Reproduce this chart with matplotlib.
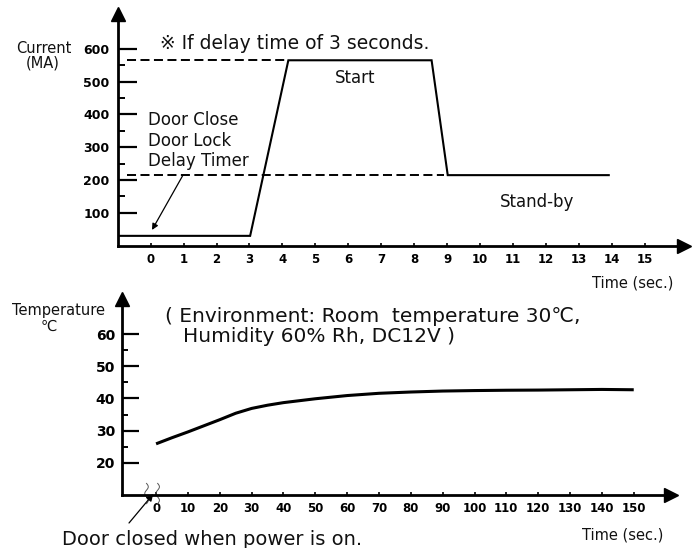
import matplotlib
matplotlib.use("Agg")
import matplotlib.pyplot as plt
import numpy as np

plt.rcParams['font.family'] = ['DejaVu Sans', 'Noto Sans CJK SC']
plt.rcParams['lines.scale_dashes'] = False

# ---------------- data ----------------
# Top chart: current (mA) vs time (s)
cur_time = [-1.0, 3.02, 4.18, 8.53, 9.02, 13.91]
cur_val = [30, 30, 565, 565, 215, 215]
start_level = 565
standby_level = 215
dash_start = -0.72
dash_hi_end = 4.18
dash_lo_end = 8.9
cur_xticks = list(range(0, 16))
cur_yticks = [100, 200, 300, 400, 500, 600]
cur_yminor = [150, 250, 350, 450, 550]

# Bottom chart: temperature (C) vs time (s)
temp_time = [0, 5, 10, 15, 20, 25, 30, 35, 40, 45, 50, 55, 60, 70, 80, 90,
             100, 110, 120, 130, 140, 150]
temp_val = [25.9, 27.8, 29.6, 31.5, 33.4, 35.4, 36.9, 37.9, 38.7, 39.3, 39.9, 40.4,
            40.9, 41.6, 42.0, 42.3, 42.45, 42.55, 42.6, 42.7, 42.8, 42.7]
temp_xticks = list(range(0, 151, 10))
temp_yticks = [20, 30, 40, 50, 60]
temp_yminor = [25, 35, 45, 55]
break_x = [-3.0, 0.5]

W, H = 699, 548
fig = plt.figure(figsize=(W / 100, H / 100), dpi=100)


def px_axes(left, top, right, bottom):
    return fig.add_axes([left / W, 1 - bottom / H, (right - left) / W, (bottom - top) / H])


def ptext(x, y, s, **kw):
    kw.setdefault('va', 'baseline')
    kw.setdefault('ha', 'left')
    kw.setdefault('color', '#111111')
    fig.text(x / W, 1 - y / H, s, **kw)


def style_axes(ax, major_len, minor_len, ylabsize, xlabsize, ypad, xpad, right_ms):
    for s in ['top', 'right']:
        ax.spines[s].set_visible(False)
    for s in ['left', 'bottom']:
        ax.spines[s].set_linewidth(2.0)
    ax.tick_params(axis='y', which='major', direction='in', length=major_len, width=1.6,
                   pad=ypad, labelsize=ylabsize)
    ax.tick_params(axis='y', which='minor', direction='in', length=minor_len, width=1.4)
    ax.tick_params(axis='x', which='major', direction='in', length=2.5, width=1.2,
                   pad=xpad, labelsize=xlabsize)
    for lab in ax.get_xticklabels() + ax.get_yticklabels():
        lab.set_fontweight('bold')
    ax.plot([0], [1], marker='^', ms=10, color='black', transform=ax.transAxes, clip_on=False)
    ax.plot([1], [0], marker='>', ms=right_ms, color='black', transform=ax.transAxes, clip_on=False)
    ax.patch.set_visible(False)


# ---------------- top chart ----------------
ax1 = px_axes(118, 14, 684, 245.7)
ax1.set_xlim(-0.993, 16.195)
ax1.set_ylim(0, 706)
ax1.set_xticks(cur_xticks)
ax1.set_xticklabels([str(v) for v in cur_xticks])
ax1.set_yticks(cur_yticks)
ax1.set_yticklabels([str(v) for v in cur_yticks])
ax1.set_yticks(cur_yminor, minor=True)
style_axes(ax1, 13.7, 5, 9, 8.5, 6, 5.5, 10)

ax1.plot(cur_time, cur_val, color='black', lw=1.5, solid_joinstyle='miter')
ax1.plot([dash_start, dash_hi_end], [start_level, start_level], color='black', lw=1.4, dashes=(6.5, 3.2))
ax1.plot([dash_start, dash_lo_end], [standby_level, standby_level], color='black', lw=1.4, dashes=(6.5, 3.2))
ax1.annotate('', xy=(0.04, 48), xytext=(0.98, 215),
             arrowprops=dict(arrowstyle='-|>', color='black', lw=0.9, mutation_scale=9,
                             shrinkA=0, shrinkB=0))

# ---------------- bottom chart ----------------
ax2 = px_axes(122, 299, 671, 495)
ax2.set_xlim(-10.7, 161.7)
ax2.set_ylim(10, 70.9)
ax2.set_xticks(temp_xticks)
ax2.set_xticklabels([str(v) for v in temp_xticks])
ax2.set_yticks(temp_yticks)
ax2.set_yticklabels([str(v) for v in temp_yticks])
ax2.set_yticks(temp_yminor, minor=True)
style_axes(ax2, 12, 4.5, 10, 8.5, 5, 5, 9.5)

ax2.plot(temp_time, temp_val, color='black', lw=2.2, solid_capstyle='butt',
         solid_joinstyle='round')

# break squiggles on the time axis
yy = np.linspace(7.3, 13.6, 40)
for bx in break_x:
    ax2.plot(bx + 0.55 * np.sin((yy - 7.3) / (13.6 - 7.3) * 3 * np.pi), yy,
             color='#555555', lw=0.7, clip_on=False)
ax2.annotate('', xy=(-0.9, 10.3), xytext=(-8.5, 1.3),
             arrowprops=dict(arrowstyle='-|>', color='black', lw=0.9, mutation_scale=10,
                             shrinkA=0, shrinkB=0), annotation_clip=False)

# ---------------- texts ----------------
ptext(16, 53, 'Current', fontsize=10.5)
ptext(26, 68, '(MA)', fontsize=10.5)
ptext(160, 49, '※ If delay time of 3 seconds.', fontsize=13.5)
ptext(335, 83, 'Start', fontsize=12)
ptext(148, 125, 'Door Close', fontsize=12)
ptext(148, 146, 'Door Lock', fontsize=12)
ptext(148, 166, 'Delay Timer', fontsize=12)
ptext(500, 207, 'Stand-by', fontsize=12)
ptext(592, 287, 'Time (sec.)', fontsize=10.5)

ptext(12, 315, 'Temperature', fontsize=10.5)
ptext(41, 331, '℃', fontsize=10.5)
ptext(165, 322, '( Environment: Room  temperature 30℃,', fontsize=14.5)
ptext(183, 342, 'Humidity 60% Rh, DC12V )', fontsize=14.5)
ptext(62, 545, 'Door closed when power is on.', fontsize=14)
ptext(582, 539, 'Time (sec.)', fontsize=10.5)

fig.savefig('out.png', dpi=100)
